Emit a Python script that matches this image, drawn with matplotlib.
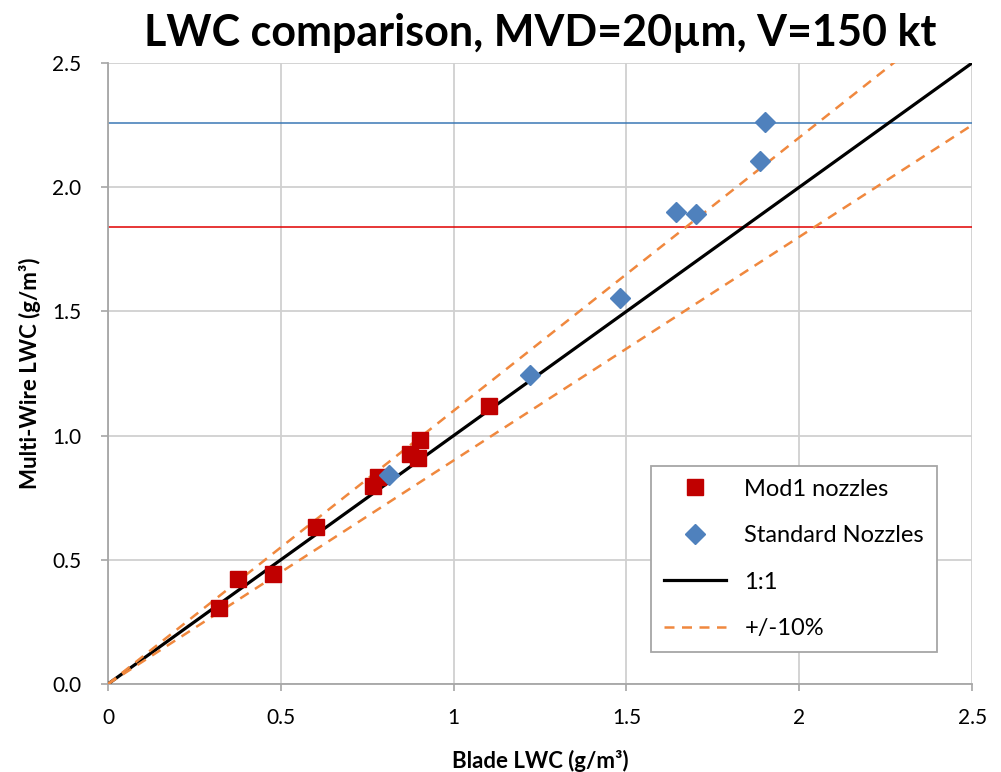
import numpy as np
from matplotlib import pyplot as plt

# Mod1 nozzles
mod1_blade = [0.32, 0.375, 0.476, 0.601, 0.768, 0.782, 0.874, 0.896, 0.903, 1.102]
mod1_wire = [0.305, 0.421, 0.442, 0.631, 0.797, 0.835, 0.926, 0.911, 0.982, 1.119]

# Standard nozzles
std_blade = [0.812, 1.221, 1.481, 1.643, 1.700, 1.885, 1.902]
std_wire = [0.841, 1.244, 1.555, 1.899, 1.891, 2.107, 2.261]

ref_x = [0, 2.5]
blue_level = 2.26
red_level = 1.84

plt.rcParams['font.family'] = ['Lato', 'DejaVu Sans']

fig = plt.figure(figsize=(10.01, 7.72), dpi=100)
ax = fig.add_axes([0.1079, 0.114, 0.8632, 0.8044])

ax.axhline(blue_level, color='#3A78B5', linewidth=1.1, zorder=2)
ax.axhline(red_level, color='#E00000', linewidth=1.1, zorder=2)

x = np.array(ref_x)
ax.plot(x, x, color='black', linewidth=2.3, label='1:1', zorder=3)
ax.plot(x, x * 1.1, color='#F0883E', linewidth=1.8, linestyle=(0, (4, 3)), label='+/-10%', zorder=3)
ax.plot(x, x * 0.9, color='#F0883E', linewidth=1.8, linestyle=(0, (4, 3)), zorder=3)

ax.plot(mod1_blade, mod1_wire, linestyle='none', marker='s', markersize=12,
        color='#C00000', label='Mod1 nozzles', zorder=4)
ax.plot(std_blade, std_wire, linestyle='none', marker='D', markersize=10,
        color='#4F81BD', label='Standard Nozzles', zorder=4)

ax.set_xlim(0, 2.5)
ax.set_ylim(0, 2.5)
ax.set_xticks([0, 0.5, 1, 1.5, 2, 2.5])
ax.set_xticklabels(['0', '0.5', '1', '1.5', '2', '2.5'])
ax.set_yticks(np.arange(0, 2.51, 0.5))
ax.set_yticklabels(['%.1f' % v for v in np.arange(0, 2.51, 0.5)])
ax.grid(True, color='#D0D0D0', linewidth=1.3)
ax.set_axisbelow(True)
for s in ['top', 'right']:
    ax.spines[s].set_visible(False)
for s in ['left', 'bottom']:
    ax.spines[s].set_color('#A6A6A6')
    ax.spines[s].set_linewidth(1.3)
ax.tick_params(axis='both', labelsize=15, color='#A6A6A6', length=5, width=1.2)
ax.tick_params(axis='x', pad=12)
ax.tick_params(axis='y', pad=14)

ax.set_xlabel('Blade LWC (g/m³)', fontsize=16, fontweight='bold', labelpad=16)
ax.set_ylabel('Multi-Wire LWC (g/m³)', fontsize=16, fontweight='bold', labelpad=8)
fig.text(0.54, 0.957, 'LWC comparison, MVD=20µm, V=150 kt', fontsize=31,
         fontweight='bold', ha='center', va='center')

handles, labels = ax.get_legend_handles_labels()
order = [2, 3, 0, 1]
leg = ax.legend([handles[i] for i in order], [labels[i] for i in order],
                loc='lower right', bbox_to_anchor=(0.9595, 0.0515), fontsize=17,
                frameon=True, fancybox=False, edgecolor='#A6A6A6', framealpha=1,
                borderpad=0.55, labelspacing=1.08, handlelength=2.6, handletextpad=0.8,
                borderaxespad=0)
leg.get_frame().set_linewidth(1.3)

fig.savefig('out.png', dpi=100)
